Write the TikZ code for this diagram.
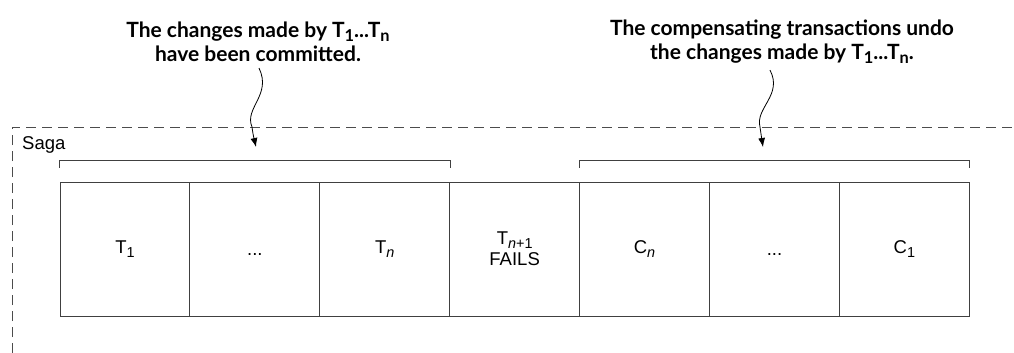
\documentclass[tikz,border=0pt]{standalone}
\usepackage{fontspec}
\setmainfont{Liberation Sans}
\newfontfamily\headfont{Lato}
\usetikzlibrary{arrows.meta}
\newcommand\moresteps{\vphantom{T}...}
\newcommand\lowidx[1]{\raisebox{-0.2em}{\scalebox{0.78}{#1}}}
\tikzset{
  txbox/.style={draw=black!75, line width=1pt, minimum width=129.9pt, minimum height=134pt, inner sep=0pt, font=\fontsize{18.5}{21}\selectfont, align=center},
  heading/.style={font=\headfont\bfseries\fontsize{21}{24}\selectfont, align=center, inner sep=0pt},
  brace/.style={draw=black!75, line width=1pt}
}
\begin{document}
\begin{tikzpicture}[x=1pt, y=-1pt, >={Latex[length=9pt,width=7pt]}]
\useasboundingbox (0,0) rectangle (1014,353);
% saga frame
\draw [dashed, dash pattern=on 10pt off 6pt, black!70, line width=0.9pt](12,353) |- (1014,127);
\node [anchor=base west, inner sep=0pt, font=\fontsize{18.5}{20}\selectfont] (saga) at (22,149) {Saga};

% the transactions
\foreach \lbl [count=\i] in {T\lowidx{1}, \moresteps, T\lowidx{\textit{n}}, T\lowidx{\textit{n}+1}\\FAILS, C\lowidx{\textit{n}}, \moresteps, C\lowidx{1}}
  \node [txbox] (b\i) at (60+129.9*\i-64.95, 249) {\lbl};

% brackets
\draw [brace]([yshift=14pt]b1.north west) -- ([yshift=21pt]b1.north west) -- ([yshift=21pt]b3.north east) -- ([yshift=14pt]b3.north east);
\draw [brace]([yshift=14pt]b5.north west) -- ([yshift=21pt]b5.north west) -- ([yshift=21pt]b7.north east) -- ([yshift=14pt]b7.north east);

% notes
\node [heading] (done) at (258,42) {The changes made by T\lowidx{1}...T\lowidx{n}\\have been committed.};
\node [heading] (undo) at (782,42) {The compensating transactions undo\\the changes made by T\lowidx{1}...T\lowidx{n}.};
\coordinate (donetip) at (256,147);
\coordinate (undotip) at (763,147);
\draw [->, line width=0.8pt](done.south) ++(1,6) .. controls (272,95) and (244,108) .. (252,127) .. controls (253,134) .. (donetip);
\draw [->, line width=0.8pt](undo.south) ++(-12,6) .. controls (783,95) and (755,108) .. (760,127) .. controls (761,134) .. (undotip);
\end{tikzpicture}
\end{document}
